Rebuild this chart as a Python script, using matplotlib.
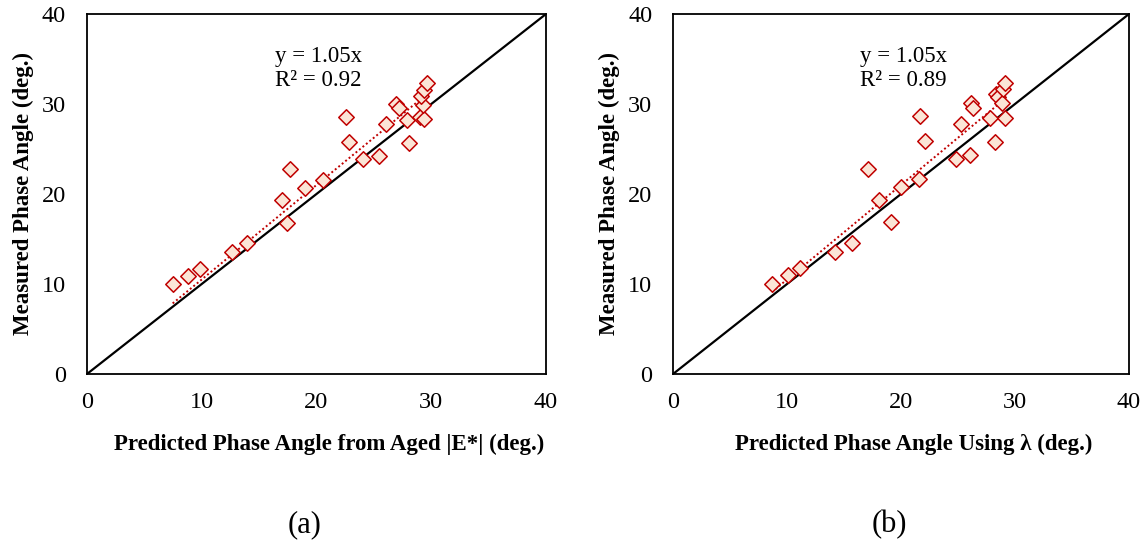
import numpy as np
import matplotlib
matplotlib.use("Agg")
import matplotlib.pyplot as plt

plt.rcParams['font.family'] = ['Liberation Serif', 'DejaVu Serif']

# panel (a): predicted from aged |E*| vs measured
pred_a = [7.47, 8.77, 9.85, 12.64, 13.94, 16.99, 17.43, 17.69, 19.03, 20.57,
          22.6, 22.83, 24.08, 25.42, 26.06, 26.93, 27.2, 27.86, 28.06, 29.0,
          29.37, 29.31, 29.08, 29.37, 29.6]
meas_a = [9.96, 10.93, 11.67, 13.6, 14.5, 19.33, 16.74, 22.78, 20.7, 21.6,
          28.56, 25.78, 23.85, 24.26, 27.8, 30.0, 29.5, 28.2, 25.7, 28.6,
          28.3, 29.9, 30.9, 31.5, 32.3]

# panel (b): predicted using lambda vs measured
pred_b = [8.69, 10.09, 11.18, 14.24, 15.67, 17.1, 18.06, 19.11, 20.02, 21.56,
          21.68, 22.12, 24.8, 26.02, 25.24, 26.11, 26.34, 27.8, 28.25, 28.33,
          28.54, 28.83, 28.97, 29.12, 29.12]
meas_b = [9.96, 11.0, 11.74, 13.56, 14.5, 22.8, 19.37, 16.85, 20.78, 21.67,
          28.67, 25.9, 23.9, 24.3, 27.8, 30.08, 29.5, 28.4, 25.8, 31.1,
          30.8, 30.08, 31.7, 32.3, 28.4]

slopes = [1.05, 1.05]
r2 = [0.92, 0.89]
xlabels = ['Predicted Phase Angle from Aged |E*| (deg.)',
           'Predicted Phase Angle Using λ (deg.)']
tags = ['(a)', '(b)']
ticks = [0, 10, 20, 30, 40]

fig = plt.figure(figsize=(11.44, 5.48), dpi=100)
rects = [[0.076, 0.3175, 0.4013, 0.657], [0.5883, 0.3175, 0.3986, 0.657]]

for i, (xs, ys) in enumerate([(pred_a, meas_a), (pred_b, meas_b)]):
    ax = fig.add_axes(rects[i])
    ax.plot([0, 40], [0, 40], color='black', lw=1.6, zorder=2)
    xr = np.array([min(xs), max(xs)])
    ax.plot(xr, slopes[i] * xr, color='#C00000', lw=1.4, ls=(0, (1, 1.3)), zorder=3)
    ax.scatter(xs, ys, marker='D', s=62, facecolor='#FBE5D6', edgecolor='#C00000',
               linewidths=1.1, zorder=4)
    ax.set_xlim(0, 40)
    ax.set_ylim(0, 40)
    ax.set_xticks(ticks)
    ax.set_yticks(ticks)
    ax.tick_params(length=0, labelsize=17.5)
    ax.tick_params(axis='x', pad=13)
    ax.tick_params(axis='y', pad=15)
    for sp in ax.spines.values():
        sp.set_linewidth(1.3)
        sp.set_color('black')
    ax.set_xlabel(xlabels[i], fontsize=16.5, fontweight='bold', labelpad=15, x=0.527)
    ax.set_ylabel('Measured Phase Angle (deg.)', fontsize=16.5, fontweight='bold', labelpad=6)
    ax.text(0.41, 0.91, f'y = {slopes[i]:.2f}x\nR² = {r2[i]:.2f}', transform=ax.transAxes,
            fontsize=16.5, va='top', ha='left', linespacing=1.15)
    fig.text(rects[i][0] + rects[i][2] * 0.475, 0.042, tags[i], fontsize=22, ha='center', va='center')

fig.savefig('out.png', dpi=100)
